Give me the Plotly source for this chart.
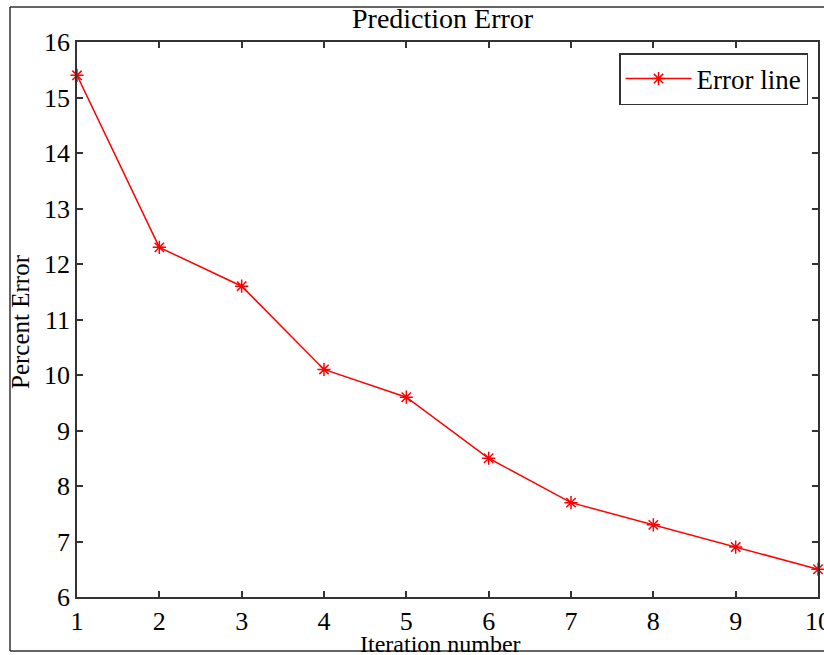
import plotly.graph_objects as go

iterations = [1, 2, 3, 4, 5, 6, 7, 8, 9, 10]
percent_error = [15.4, 12.3, 11.6, 10.1, 9.6, 8.5, 7.7, 7.3, 6.9, 6.5]
x_ticks = [1, 2, 3, 4, 5, 6, 7, 8, 9, 10]
y_ticks = [6, 7, 8, 9, 10, 11, 12, 13, 14, 15, 16]

W, H = 824, 655
L, R, T, B = 77, 818, 42, 597

def px(x):
    return (x - L) / (R - L)

def py(y):
    return (B - y) / (B - T)

FONT = "Liberation Serif"
AX = "#333333"
TXT = "#000000"

fig = go.Figure()
fig.add_trace(go.Scatter(
    x=iterations, y=percent_error, mode="lines+markers", name="Error line",
    line=dict(color="#ff0000", width=1.5),
    marker=dict(symbol="asterisk-open", size=11, color="#ff0000",
                line=dict(color="#ff0000", width=1.5)),
    cliponaxis=False,
))

axis_common = dict(
    showgrid=False, zeroline=False, showline=True, linecolor=AX, linewidth=1.5,
    mirror="ticks", ticks="inside", ticklen=6, tickwidth=1.5, tickcolor=AX,
    tickfont=dict(family=FONT, size=26, color=TXT),
    automargin=False, ticklabeloverflow="allow",
)
fig.update_xaxes(range=[1, 10], tickvals=x_ticks, **axis_common)
fig.update_yaxes(range=[6, 16], tickvals=y_ticks, **axis_common)

fig.update_layout(
    width=W, height=H,
    margin=dict(l=L, r=W - R, t=T, b=H - B, pad=0, autoexpand=False),
    paper_bgcolor="white", plot_bgcolor="white",
    showlegend=True,
    legend=dict(x=px(808), y=py(53), xanchor="right", yanchor="top",
                bordercolor=AX, borderwidth=1.5, bgcolor="white",
                font=dict(family=FONT, size=27, color=TXT),
                itemwidth=66, tracegroupgap=0),
    font=dict(family=FONT, color=TXT),
)

# outer frame
frame = dict(type="line", xref="paper", yref="paper", line=dict(color=AX, width=1.5))
fig.add_shape(x0=px(10), x1=px(10), y0=py(7), y1=py(651), **frame)
fig.add_shape(x0=px(10), x1=px(830), y0=py(7), y1=py(7), **frame)
fig.add_shape(x0=px(10), x1=px(830), y0=py(651), y1=py(651), **frame)

fig.add_annotation(text="Prediction Error", xref="paper", yref="paper",
                   x=px(443), y=py(19), xanchor="center", yanchor="middle",
                   showarrow=False, font=dict(family=FONT, size=28, color=TXT))
fig.add_annotation(text="Iteration number", xref="paper", yref="paper",
                   x=px(440), y=py(644), xanchor="center", yanchor="middle",
                   showarrow=False, font=dict(family=FONT, size=24, color=TXT))
fig.add_annotation(text="Percent Error", xref="paper", yref="paper",
                   x=px(20), y=py(322), xanchor="center", yanchor="middle",
                   textangle=-90,
                   showarrow=False, font=dict(family=FONT, size=25, color=TXT))

fig.write_html("out.html", config={"displayModeBar": False},
               post_script="document.body.style.margin='0px';document.body.style.overflow='hidden';")
